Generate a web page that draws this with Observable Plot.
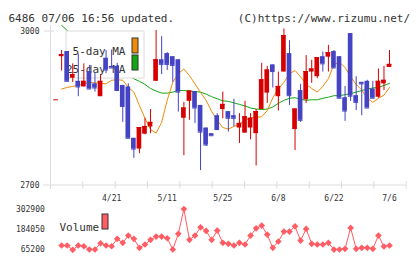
<!DOCTYPE html>
<html>
<head>
<meta charset="utf-8">
<script src="https://cdn.jsdelivr.net/npm/d3@7"></script>
<script src="https://cdn.jsdelivr.net/npm/@observablehq/plot@0.6"></script>
<style>
  body { margin: 0; background: #fff; }
  #chart { position: relative; width: 420px; height: 259px; }
  #chart svg { position: absolute; left: 0; top: 0; overflow: visible; background: transparent !important; }
</style>
</head>
<body>
<div id="chart"></div>
<script>
// Daily OHLC for code 6486 (one entry per trading day, oldest first)
const openP  = [2866, 2950, 2960, 2908, 2902, 2891, 2921, 2897, 2872, 2947, 2931, 2931, 2894, 2891, 2791, 2770, 2799, 2813, 2902, 2944,
                2956, 2950, 2944, 2830, 2863, 2882, 2855, 2811, 2800, 2835, 2847, 2843, 2835, 2811, 2801, 2811, 2800, 2847, 2879, 2934,
                2872, 2920, 2956, 2808, 2884, 2866, 2920, 2911, 2950, 2949, 2960, 2950, 2870, 2995, 2874, 2900, 2902, 2887, 2871, 2897, 2929];
const highP  = [2866, 2962, 2960, 2936, 2955, 2936, 2933, 2917, 2915, 2962, 2963, 2937, 2894, 2897, 2791, 2812, 2830, 2847, 3001, 2989,
                2958, 2950, 2944, 2861, 2883, 2882, 2855, 2811, 2800, 2839, 2881, 2843, 2867, 2839, 2863, 2839, 2847, 2937, 2931, 2934,
                2920, 3004, 2981, 2848, 2896, 2952, 2943, 2948, 2959, 2972, 2962, 2950, 2892, 2995, 2911, 2900, 2904, 2902, 2926, 2931, 2962];
const lowP   = [2866, 2922, 2902, 2900, 2872, 2891, 2887, 2881, 2872, 2917, 2928, 2884, 2822, 2791, 2752, 2761, 2798, 2800, 2902, 2915,
                2923, 2900, 2842, 2757, 2826, 2820, 2728, 2775, 2796, 2806, 2829, 2803, 2813, 2781, 2801, 2788, 2737, 2847, 2859, 2889,
                2844, 2920, 2855, 2767, 2822, 2859, 2898, 2907, 2920, 2920, 2928, 2869, 2824, 2863, 2845, 2835, 2850, 2869, 2869, 2884, 2929];
const closeP = [2866, 2954, 2902, 2915, 2891, 2902, 2887, 2889, 2902, 2924, 2928, 2884, 2853, 2791, 2770, 2812, 2814, 2822, 2944, 2935,
                2935, 2933, 2881, 2850, 2883, 2850, 2803, 2778, 2796, 2808, 2857, 2830, 2830, 2820, 2833, 2830, 2843, 2905, 2924, 2921,
                2892, 2991, 2874, 2848, 2826, 2921, 2926, 2948, 2936, 2958, 2928, 2869, 2844, 2873, 2861, 2897, 2850, 2869, 2902, 2904, 2935];

// Moving averages as published with the chart
const ma5  = [null, 2887, 2890, 2892, 2894, 2897, 2900, 2899, 2898, 2897, 2904, 2905, 2904, 2890, 2881, 2855, 2830, 2808, 2801, 2822,
              2865, 2900, 2917, 2926, 2913, 2897, 2880, 2865, 2843, 2826, 2812, 2809, 2814, 2819, 2826, 2831, 2832, 2833, 2845, 2870,
              2887, 2900, 2917, 2923, 2911, 2896, 2888, 2881, 2892, 2907, 2935, 2939, 2929, 2911, 2896, 2885, 2869, 2861, 2869, 2875, 2890];
const ma25 = [null, 3011, 3001, 2992, 2983, 2975, 2966, 2958, 2950, 2942, 2935, 2927, 2920, 2913, 2907, 2902, 2896, 2888, 2883, 2879,
              2879, 2881, 2884, 2884, 2883, 2882, 2881, 2877, 2872, 2868, 2864, 2863, 2860, 2857, 2854, 2850, 2848, 2847, 2848, 2852,
              2859, 2865, 2869, 2870, 2867, 2865, 2866, 2866, 2869, 2871, 2874, 2874, 2876, 2878, 2881, 2884, 2887, 2889, 2890, 2894, 2898];

// Daily volume
const volume = [null, 90100, 90100, 65200, 90100, 86100, 67000, 67000, 103500, 90100, 86100, 129000, 105800, 148100, 129000, 76800,
                95900, 123200, 142300, 142300, 132500, 67000, 158000, 302900, 123200, 148100, 196200, 175400, 123200, 177100, 105800,
                100000, 90100, 105800, 95900, 148100, 190400, 206100, 153900, 76800, 113300, 171300, 171300, 202000, 119100, 187000,
                100000, 95900, 95900, 105800, 66500, 66800, 71000, 192800, 71000, 76800, 76800, 71000, 148100, 84300, 90100];

// Axis labels
const priceTicks = [3000, 2700];
const dateTickIndex = [10, 20, 30, 40, 50, 60];
const dateTickLabels = ["4/21", "5/11", "5/25", "6/8", "6/22", "7/6"];
const volumeTicks = [302900, 184050, 65200];
const titleText = "6486 07/06 16:56 updated.";
const creditText = "(C)https://www.rizumu.net/";

const UP = "#d60000", DOWN = "#4343c4", MA5C = "#f08c0a", MA25C = "#13a813", VOLC = "#ff5c64", GRID = "#dcdcdc", INK = "#333";
const MONO = "DejaVu Sans Mono";

const candles = d3.range(openP.length).map(i => ({
  i, o: openP[i], h: highP[i], l: lowP[i], c: closeP[i], col: closeP[i] >= openP[i] ? UP : DOWN
}));
const lines = d3.range(openP.length).map(i => ({i, ma5: ma5[i], ma25: ma25[i], v: volume[i]}));
const xTicks = d3.range(12).map(k => -1 + k * 64 / 11);

const W = 420, H = 259;
const xScale = {type: "linear", domain: [-1, 63], range: [50, 405.7]};
const labelFont = {fontFamily: MONO, fontSize: 11, fill: INK, style: "letter-spacing:-0.6px"};

const main = Plot.plot({
  width: W, height: H, margin: 0,
  x: {...xScale, axis: null},
  y: {domain: [2700, 3000], range: [184.5, 30.5], axis: null},
  style: {background: "transparent", fontFamily: MONO},
  marks: [
    // header texts
    Plot.text([titleText], {text: d => d, frameAnchor: "top-left", dx: 8, dy: 13.5, textAnchor: "start", ...labelFont}),
    Plot.text([creditText], {text: d => d, frameAnchor: "top-right", dx: -10.5, dy: 13.5, textAnchor: "end", ...labelFont}),
    // axis frame
    Plot.ruleX([-1], {stroke: GRID, insetTop: 25, insetBottom: 70}),
    Plot.ruleY([2700], {stroke: GRID, insetLeft: 43, insetRight: W - 405.7}),
    Plot.ruleY([3000], {stroke: GRID, insetLeft: 44, insetRight: W - 54}),
    Plot.ruleX(xTicks, {y1: 2700, y2: 2700, insetTop: 4, insetBottom: 3.5, stroke: GRID}),
    Plot.text(priceTicks, {x: -1, y: d => d, text: d => String(d), dx: -11, textAnchor: "end",
      fontFamily: MONO, fontSize: 8, fill: INK}),
    Plot.text(dateTickIndex, {x: d => d, y: 2700, text: (d, j) => dateTickLabels[j], dy: 13.3,
      fontFamily: MONO, fontSize: 8, fill: INK}),
    // moving averages
    Plot.line(lines, {x: "i", y: "ma25", stroke: MA25C, strokeWidth: 1}),
    Plot.line(lines, {x: "i", y: "ma5", stroke: MA5C, strokeWidth: 1}),
    // legend box
    Plot.frame({fill: "white", stroke: GRID, insetLeft: 65.5, insetRight: W - 143.5, insetTop: 30.5, insetBottom: H - 77.5}),
    Plot.text(["5-day MA"], {text: d => d, frameAnchor: "top-left", dx: 125, dy: 47, textAnchor: "end", ...labelFont}),
    Plot.text(["25-day MA"], {text: d => d, frameAnchor: "top-left", dx: 125, dy: 64.5, textAnchor: "end", ...labelFont}),
    Plot.frame({fill: MA5C, stroke: INK, insetLeft: 131.5, insetRight: W - 137.5, insetTop: 37.5, insetBottom: H - 52.5}),
    Plot.frame({fill: MA25C, stroke: INK, insetLeft: 131.5, insetRight: W - 137.5, insetTop: 54.5, insetBottom: H - 69.5}),
    // candlesticks
    Plot.ruleX(candles, {x: "i", y1: "l", y2: "h", stroke: "col", strokeWidth: 1}),
    Plot.rect(candles, {x1: d => d.i - 0.42, x2: d => d.i + 0.42, y1: "o", y2: "c", fill: "col"}),
    Plot.ruleY(candles, {y: "c", x1: d => d.i - 0.42, x2: d => d.i + 0.42, stroke: "col"})
  ]
});

const vol = Plot.plot({
  width: W, height: H, margin: 0,
  x: {...xScale, axis: null},
  y: {domain: [65200, 302900], range: [249.3, 208.5], axis: null},
  style: {background: "transparent", fontFamily: MONO},
  marks: [
    Plot.text(volumeTicks, {x: -1, y: d => d, text: d => String(d), dx: -5.7, textAnchor: "end",
      fontFamily: MONO, fontSize: 8, fill: INK}),
    Plot.line(lines, {x: "i", y: "v", stroke: VOLC, strokeWidth: 1}),
    Plot.dot(lines.filter(d => d.v != null), {x: "i", y: "v", symbol: "diamond2", r: 3, fill: VOLC, stroke: "none"}),
    Plot.text(["Volume"], {text: d => d, frameAnchor: "top-left", dx: 59, dy: 222.5, textAnchor: "start", ...labelFont}),
    Plot.frame({fill: VOLC, stroke: INK, insetLeft: 101.5, insetRight: W - 107.5, insetTop: 213.5, insetBottom: H - 228.5})
  ]
});

const host = document.getElementById("chart");
host.append(main, vol);
</script>
</body>
</html>
